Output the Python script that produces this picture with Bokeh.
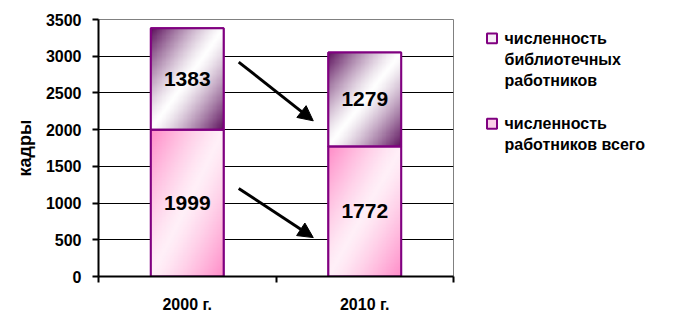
import numpy as np
from bokeh.plotting import figure
from bokeh.layouts import row
from bokeh.models import (FixedTicker, ColumnDataSource, Arrow, NormalHead, Range1d)
from bokeh.core.properties import value
from bokeh.embed import file_html
from bokeh.resources import INLINE

# ---- data ----
years = ["2000 г.", "2010 г."]
staff_total = [1999, 1772]          # нижний сегмент: численность работников всего
staff_library = [1383, 1279]        # верхний сегмент: численность библиотечных работников
y_ticks = [0, 500, 1000, 1500, 2000, 2500, 3000, 3500]
legend_library = ["численность", "библиотечных", "работников"]
legend_total = ["численность", "работников всего"]
axis_title = "кадры"
# trend arrows (x in category units, y in data units): (x0, y0, x1, y1)
trend_arrows = [(0.79, 2920, 1.21, 2120), (0.79, 1200, 1.21, 530)]

FONT = "Liberation Sans"
PURPLE = "#800080"
LIB_FILL = "#f6eef6"
TOT_FILL = "#fbd0e8"

TOP, BOTTOM = 19, 278   # frame edges in page pixels

xs = [i + 0.5 for i in range(len(years))]
bar_w = 0.41
src = ColumnDataSource(dict(
    x=xs, total=staff_total, library=staff_library,
    lib_bottom=staff_total,
    lib_top=[a + b for a, b in zip(staff_total, staff_library)],
    total_mid=[a / 2 for a in staff_total],
    lib_mid=[a + b / 2 for a, b in zip(staff_total, staff_library)],
    total_txt=[str(v) for v in staff_total],
    lib_txt=[str(v) for v in staff_library],
))

p = figure(width=463, height=315, output_backend="svg", toolbar_location=None,
           x_range=Range1d(0, 2), y_range=Range1d(0, 3500),
           min_border_left=98, min_border_right=10, min_border_top=TOP,
           min_border_bottom=315 - BOTTOM)
p.background_fill_color = "white"
p.border_fill_color = "white"
p.outline_line_color = "#808080"
p.outline_line_width = 1

# grid
p.xgrid.visible = False
p.ygrid.ticker = FixedTicker(ticks=y_ticks[1:-1])
p.ygrid.grid_line_color = "black"
p.ygrid.grid_line_width = 1

# fills
p.vbar(x="x", width=bar_w, bottom=0, top="total", source=src,
       fill_color=TOT_FILL, line_color=PURPLE, line_width=2)
p.vbar(x="x", width=bar_w, bottom="lib_bottom", top="lib_top", source=src,
       fill_color=LIB_FILL, line_color=PURPLE, line_width=2)


def gradient(edge, mid, n=90, power=1.3):
    u = np.linspace(0, 1, n)[None, :]
    v = np.linspace(0, 1, n)[:, None]
    t = (u + (1 - v)) / 2
    s = np.abs(2 * t - 1) ** power
    img = np.empty((n, n), dtype=np.uint32)
    view = img.view(dtype=np.uint8).reshape((n, n, 4))
    for k in range(3):
        view[:, :, k] = (mid[k] * (1 - s) + edge[k] * s).astype(np.uint8)
    view[:, :, 3] = 255
    return img


g_lib = gradient((92, 16, 92), (255, 255, 255))
g_tot = gradient((255, 140, 200), (255, 240, 248))

p.image_rgba(image=[g_tot] * len(xs), x=[x - bar_w / 2 for x in xs],
             y=[0] * len(xs), dw=[bar_w] * len(xs), dh=staff_total)
p.image_rgba(image=[g_lib] * len(xs), x=[x - bar_w / 2 for x in xs],
             y=staff_total, dw=[bar_w] * len(xs), dh=staff_library)

# borders on top
p.vbar(x="x", width=bar_w, bottom=0, top="total", source=src,
       fill_alpha=0, line_color=PURPLE, line_width=2)
p.vbar(x="x", width=bar_w, bottom="lib_bottom", top="lib_top", source=src,
       fill_alpha=0, line_color=PURPLE, line_width=2)

# value labels
for col_y, col_t in (("total_mid", "total_txt"), ("lib_mid", "lib_txt")):
    p.text(x="x", y=col_y, text=col_t, source=src, text_align="center",
           text_baseline="middle", text_font=value(FONT), text_font_style="bold",
           text_font_size="21px", text_color="black")

# arrows
for (x0, y0, x1, y1) in trend_arrows:
    p.add_layout(Arrow(x_start=x0, y_start=y0, x_end=x1, y_end=y1,
                       line_color="black", line_width=3,
                       end=NormalHead(size=15, fill_color="black", line_color="black")))

# axes
yax = p.yaxis[0]
yax.ticker = FixedTicker(ticks=y_ticks, minor_ticks=[])
yax.axis_line_color = "black"
yax.axis_line_width = 2
yax.major_tick_out = 6
yax.major_tick_in = 0
yax.major_tick_line_color = "black"
yax.major_tick_line_width = 2
yax.major_label_standoff = 11
yax.major_label_text_font = FONT
yax.major_label_text_font_style = "bold"
yax.major_label_text_font_size = "16px"
yax.major_label_text_color = "black"
yax.axis_label = axis_title
yax.axis_label_text_font = FONT
yax.axis_label_text_font_style = "bold"
yax.axis_label_text_font_size = "18px"
yax.axis_label_text_color = "black"
yax.axis_label_standoff = 8

xax = p.xaxis[0]
xax.ticker = FixedTicker(ticks=xs, minor_ticks=[0, 1, 2])
xax.major_label_overrides = {x: y for x, y in zip(xs, years)}
xax.axis_line_color = "black"
xax.axis_line_width = 2
xax.major_tick_out = 0
xax.major_tick_in = 0
xax.major_tick_line_color = None
xax.minor_tick_out = 6
xax.minor_tick_in = 0
xax.minor_tick_line_color = "black"
xax.minor_tick_line_width = 2
xax.major_label_standoff = 13
xax.major_label_text_font = FONT
xax.major_label_text_font_style = "bold"
xax.major_label_text_font_size = "16px"
xax.major_label_text_color = "black"

# ---- legend panel (page-pixel coordinates, y downward) ----
LX0, LW = 463, 210
q = figure(width=LW, height=315, output_backend="svg", toolbar_location=None,
           title=None, x_range=Range1d(LX0, LX0 + LW), y_range=Range1d(BOTTOM, TOP),
           min_border_left=0, min_border_right=0, min_border_top=TOP,
           min_border_bottom=315 - BOTTOM, x_axis_type=None, y_axis_type=None)
q.outline_line_color = None
q.background_fill_color = "white"
q.border_fill_color = "white"
q.xgrid.visible = False
q.ygrid.visible = False

line_h = 21
item_tops = [38, 124]
entries = [(legend_library, LIB_FILL), (legend_total, TOT_FILL)]
sq_x, sq_y, sq_c = [], [], []
tx, ty, tt = [], [], []
for (lines, fill), top in zip(entries, item_tops):
    sq_x.append(491.5)
    sq_y.append(top)
    sq_c.append(fill)
    for k, line in enumerate(lines):
        tx.append(504)
        ty.append(top + k * line_h)
        tt.append(line)

q.rect(x=sq_x, y=sq_y, width=10, height=10, fill_color=sq_c,
       line_color=PURPLE, line_width=2)
q.text(x=tx, y=ty, text=tt, text_font=value(FONT), text_font_style="bold",
       text_font_size="16px", text_color="black", text_baseline="middle",
       text_align="left")

layout = row(p, q)
open("out.html", "w").write(file_html(layout, INLINE))
